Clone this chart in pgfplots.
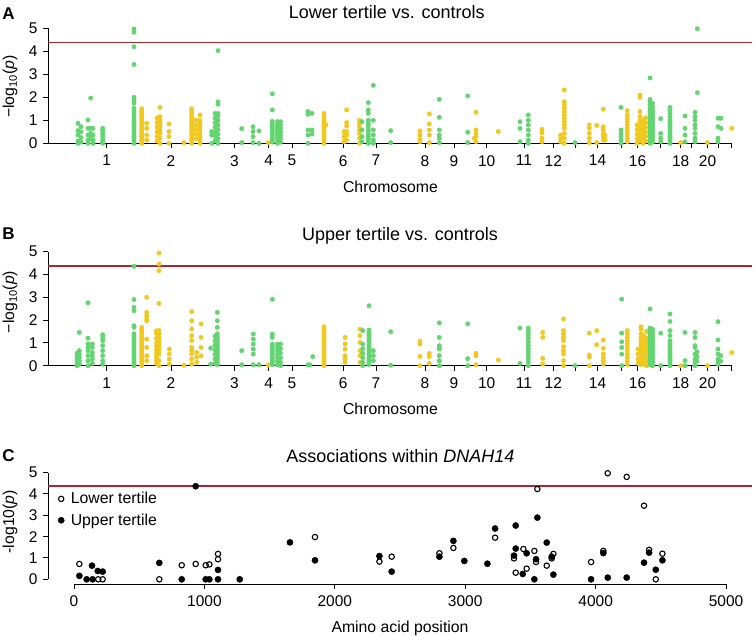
\documentclass[border=0pt]{standalone}
\usepackage{fontspec}
\setmainfont{Liberation Sans}
\usepackage{pgfplots}
\pgfplotsset{compat=1.18}
\definecolor{gc}{RGB}{98,212,112}
\definecolor{yc}{RGB}{240,200,30}
\definecolor{rc}{RGB}{168,40,50}
\newcommand{\tickfont}{\fontsize{15.5}{18}\selectfont}
\newcommand{\labfont}{\fontsize{15.8}{19}\selectfont}
\newcommand{\titfont}{\fontsize{18}{21}\selectfont}
\pgfplotsset{
  common/.style={
    scale only axis, width=704pt, ymax=5,
    axis line style={draw=none}, clip=false,
    xtick pos=left, ytick pos=left, tick align=outside,
    major tick length=5pt,
    tick style={black, line width=1pt},
    ytick={0,1,2,3,4,5}, yticklabels={0,1,2,3,4,5},
    tick label style={font=\tickfont},
    yticklabel style={xshift=-2pt},
    xticklabel style={yshift=-3.5pt},
    anchor=south west,
  },
  manh/.style={common, xmin=48, xmax=752, ymin=0,
    xtick={106.7,171,234.5,268.8,292,343.3,376,425,454,486.7,524,553.3,575.7,597.5,621,637.5,660,680.7,691.7,707.5,718.3,731.7},
    xticklabels={1,2,3,4,5,6,7,8,9,10,11,12,,14,,16,,18,,20,,},
  },
  gpt/.style={only marks, mark=*, mark size=2.2pt, color=gc},
  ypt/.style={only marks, mark=*, mark size=2.2pt, color=yc},
}
\begin{document}
\begin{tikzpicture}[x=1pt,y=1pt]
\useasboundingbox (0,0) rectangle (754,-636);
% ---------------- Panel A ----------------
\begin{axis}[manh, at={(48pt,-143.3pt)}, height=115pt]
\draw[black, line width=1pt] (axis cs:48,0) -- (axis cs:731.7,0);
\draw[black, line width=1pt] (axis cs:48,0) -- (axis cs:48,5);
\addplot[rc, line width=1.4pt] coordinates {(48,4.38) (752,4.38)};
\addplot[ypt] coordinates {
(141.7,1.5)(141.7,1.4)(141.7,1.3)(141.7,1.2)(141.7,1.1)(141.7,1.0)(141.7,0.9)(141.7,0.8)(141.7,0.7)(141.7,0.6)(141.7,0.5)(141.7,0.4)(141.7,0.3)(141.7,0.2)(141.7,0.1)(141.7,0)
(146.7,0.87)(146.7,0.65)(146.7,0.36)(146.7,0.14)
(157,1.1)(157,0.9)(157,0.7)(157,0.5)(157,0.3)(157,0.1)
(160,1.56)(160,1.16)(160,1.0)(160,0.87)(160,0.72)(160,0.58)(160,0.43)(160,0.22)(160,0)
(169,0.84)(169,0.51)(169,0.29)(169,0)
(184,0.03)
(191.7,1.5)(191.7,1.4)(191.7,1.3)(191.7,1.2)(191.7,1.1)(191.7,1.0)(191.7,0.9)(191.7,0.8)(191.7,0.7)(191.7,0.6)(191.7,0.5)(191.7,0.4)(191.7,0.3)(191.7,0.2)(191.7,0.1)(191.7,0)
(196,1.0)(196,0.8)(196,0.6)(196,0.4)(196,0.2)
(200,1.23)(200,1.0)(200,0.87)(200,0.72)(200,0.58)(200,0.43)(200,0.29)(200,0.14)(200,0)
(268.3,0.03)
(324,1.3)(324,1.2)(324,1.1)(324,1.0)(324,0.9)(324,0.8)(324,0.7)(324,0.6)(324,0.5)(324,0.4)(324,0.3)(324,0.2)(324,0.1)(324,0)
(326,0.8)
(344,0.51)(344,0.29)(344,0.07)
(346.7,1.45)(346.7,0.9)(346.7,0.75)(346.7,0.51)(346.7,0.36)(346.7,0.14)
(359.5,1.0)(359.5,0.87)(359.5,0.72)(359.5,0.58)(359.5,0.43)(359.5,0.22)(359.5,0)
(420,0.54)(420,0.36)(420,0.17)(420,0.07)
(429.3,1.28)(429.3,0.84)(429.3,0.58)(429.3,0.36)(429.3,0.03)
(474.3,0.22)
(476,1.35)(476,0.58)(476,0.43)(476,0.29)(476,0.07)
(498.3,0.51)
(542,0.61)(542,0.46)(542,0.22)(542,0.07)
(560.7,0.36)(560.7,0.22)(560.7,0.07)
(564.3,2.32)(564.3,1.81)(564.3,1.67)(564.3,1.52)(564.3,1.38)(564.3,1.23)(564.3,1.09)(564.3,0.94)(564.3,0.8)(564.3,0.65)(564.3,0.43)(564.3,0.22)(564.3,0)
(589.3,0.8)(589.3,0.65)(589.3,0.43)(589.3,0.22)(589.3,0.03)
(596.7,0.78)(596.7,0.03)
(603.3,1.48)(603.3,0.72)(603.3,0.58)(603.3,0.43)(603.3,0.29)(603.3,0.14)
(605,0.36)(605,0.14)
(627.3,1.42)(627.3,1.23)(627.3,1.09)(627.3,0.94)(627.3,0.8)(627.3,0.65)(627.3,0.51)(627.3,0.36)(627.3,0.22)(627.3,0.07)
(637,0.8)(637,0.6)(637,0.4)(637,0.2)(637,0)
(640,2.1)(640,2.0)(640,1.38)(640,1.16)(640,1.0)(640,0.87)(640,0.7)(640,0.55)(640,0.4)(640,0.25)(640,0.1)
(643,1.0)(643,0.8)(643,0.6)(643,0.4)(643,0.2)(643,0)
(645.5,1.1)(645.5,0.9)(645.5,0.7)(645.5,0.5)(645.5,0.3)(645.5,0.1)
(680.7,0.03)(707.3,0.03)(731.7,0.65)
};
\addplot[gpt] coordinates {
(78,0.87)(78,0.55)(78,0.36)(78,0.1)(78,0)
(81,0.72)(81,0.5)(81,0.25)(81,0.05)
(88,1.01)(88,0.65)(88,0.36)(88,0.14)(88,0)
(90.7,1.97)(90.7,0.65)(90.7,0.43)(90.7,0.22)
(93,0.65)(93,0.36)(93,0.14)(93,0)
(102.7,0.65)(102.7,0.55)(102.7,0.43)(102.7,0.3)(102.7,0.17)(102.7,0.05)(102.7,0)
(134,4.97)(134,4.83)(134,4.2)(134,3.43)(134,2.0)(134,1.88)(134,1.74)(134,1.52)(134,1.4)(134,1.3)(134,1.2)(134,1.1)(134,1.0)(134,0.9)(134,0.8)(134,0.7)(134,0.6)(134,0.5)(134,0.4)(134,0.3)(134,0.2)(134,0.1)(134,0)
(211.7,0.51)(211.7,0.36)(211.7,0)
(215,1.3)(215,1.1)(215,0.9)(215,0.7)(215,0.5)(215,0.3)(215,0.1)
(218,4.03)(218,1.8)(218,1.7)(218,1.3)(218,1.2)(218,1.0)(218,0.8)(218,0.6)(218,0.4)(218,0.2)(218,0)
(241.7,0.64)(241.7,0.03)
(253,0.72)(253,0.51)(253,0.29)(253,0.03)
(259,0.54)(259,0)
(272.3,2.15)(272.3,1.45)(272.3,0.95)(272.3,0.85)(272.3,0.75)(272.3,0.65)(272.3,0.55)(272.3,0.45)(272.3,0.35)(272.3,0.25)(272.3,0.15)(272.3,0.05)
(277.5,0.94)(277.5,0.8)(277.5,0.7)(277.5,0.6)(277.5,0.5)(277.5,0.4)(277.5,0.3)(277.5,0.2)(277.5,0.1)(277.5,0)
(280.5,0.94)(280.5,0.8)(280.5,0.65)(280.5,0.5)(280.5,0.35)(280.5,0.2)(280.5,0.05)
(308,1.38)(308,1.26)(308,0.58)(308,0.36)(308,0)
(312,1.3)(312,0.58)(312,0.4)
(362,0.94)(362,0.58)(362,0.29)(362,0.07)
(368.3,1.77)(368.3,1.45)(368.3,1.3)(368.3,1.0)(368.3,0.87)(368.3,0.75)(368.3,0.6)(368.3,0.5)(368.3,0.4)(368.3,0.3)(368.3,0.2)(368.3,0.1)(368.3,0)
(373.3,2.52)(373.3,1.0)(373.3,0.58)(373.3,0.36)(373.3,0.14)(373.3,0)
(390.7,0.55)(390.7,0.03)
(439.3,1.91)(439.3,1.13)(439.3,0.58)(439.3,0.36)(439.3,0.22)(439.3,0.03)
(467.7,2.06)(467.7,0.48)(467.7,0.03)
(520,0.94)(520,0.65)(520,0.07)
(528.3,1.23)(528.3,1.0)(528.3,0.8)(528.3,0.58)(528.3,0.36)(528.3,0.14)(528.3,0)
(575,0.03)
(621,1.56)(621,0.58)(621,0.43)(621,0.29)(621,0.14)(621,0)
(650,2.84)(650,1.91)(650,1.8)(650,1.67)(650,1.52)(650,1.4)(650,1.3)(650,1.2)(650,1.1)(650,1.0)(650,0.9)(650,0.8)(650,0.7)(650,0.6)(650,0.5)(650,0.4)(650,0.3)(650,0.2)(650,0.1)(650,0)
(652.5,1.74)(652.5,1.6)(652.5,1.45)(652.5,1.35)(652.5,1.25)(652.5,1.15)(652.5,1.05)(652.5,0.95)(652.5,0.85)(652.5,0.75)(652.5,0.65)(652.5,0.55)(652.5,0.45)(652.5,0.35)(652.5,0.25)(652.5,0.15)(652.5,0.05)
(660.7,1.07)(660.7,0.43)(660.7,0.22)(660.7,0.07)
(670,1.56)(670,1.45)(670,1.3)(670,1.16)(670,1.0)(670,0.9)(670,0.8)(670,0.7)(670,0.6)(670,0.5)(670,0.4)(670,0.3)(670,0.2)(670,0.1)(670,0)
(685,1.19)(685,0.65)(685,0.36)(685,0.07)
(695,1.35)(695,1.16)(695,1.0)(695,0.8)(695,0.65)(695,0.43)(695,0.22)(695,0.07)
(697.3,4.98)(697.3,2.2)
(718,1.09)(718,0.72)(718,0.22)(718,0.07)
(721,1.09)(721,0.65)
};
\end{axis}
% ---------------- Panel B ----------------
\begin{axis}[manh, at={(48pt,-365.7pt)}, height=114pt]
\draw[black, line width=1pt] (axis cs:48,0) -- (axis cs:731.7,0);
\draw[black, line width=1pt] (axis cs:48,0) -- (axis cs:48,5);
\addplot[rc, line width=1.4pt] coordinates {(48,4.38) (752,4.38)};
\addplot[ypt] coordinates {
(141.7,1.68)(141.7,1.6)(141.7,1.5)(141.7,1.4)(141.7,1.3)(141.7,1.2)(141.7,1.1)(141.7,1.0)(141.7,0.9)(141.7,0.8)(141.7,0.7)(141.7,0.6)(141.7,0.5)(141.7,0.4)(141.7,0.3)(141.7,0.2)(141.7,0.1)(141.7,0)
(146.7,3.0)(146.7,2.34)(146.7,2.2)(146.7,2.05)(146.7,1.97)(146.7,1.17)(146.7,0.8)(146.7,0.44)(146.7,0.22)
(156.5,1.53)(156.5,1.4)(156.5,1.2)(156.5,1.0)(156.5,0.85)(156.5,0.7)(156.5,0.55)(156.5,0.4)(156.5,0.25)(156.5,0.1)
(159,4.94)(159,4.46)(159,4.17)(159,2.73)(159,1.54)(159,1.4)(159,1.24)(159,1.1)(159,0.95)(159,0.8)(159,0.66)(159,0.51)(159,0.22)(159,0)
(169.3,0.73)(169.3,0.51)(169.3,0.29)(169.3,0.07)
(184,0.02)
(191.7,2.37)(191.7,1.97)(191.7,1.61)(191.7,1.32)(191.7,1.1)(191.7,0.8)(191.7,0.66)(191.7,0.51)(191.7,0.29)(191.7,0.07)
(196.7,0.58)(196.7,0.37)(196.7,0.15)
(201,1.83)(201,1.24)(201,0.8)(201,0.44)
(268.3,0.03)
(324,1.71)(324,1.6)(324,1.5)(324,1.4)(324,1.3)(324,1.2)(324,1.1)(324,1.0)(324,0.9)(324,0.8)(324,0.7)(324,0.6)(324,0.5)(324,0.4)(324,0.3)(324,0.2)(324,0.1)(324,0)
(345,1.24)(345,0.95)(345,0.73)(345,0.44)(345,0.29)(345,0.15)
(360,1.6)(360,1.32)(360,1.02)(360,0.66)(360,0.44)(360,0.15)
(420,1.07)(420,0.95)(420,0.41)(420,0)
(429.3,0.54)(429.3,0.4)(429.3,0.1)
(476,0.54)(476,0.44)(476,0.04)
(498.3,0.25)
(542.7,1.46)(542.7,1.24)(542.7,0.32)(542.7,0.07)
(563.5,2.05)(563.5,1.54)(563.5,1.4)(563.5,1.24)(563.5,1.1)(563.5,0.83)(563.5,0.66)(563.5,0.51)(563.5,0.22)(563.5,0)
(589.3,1.43)(589.3,0.47)(589.3,0.37)(589.3,0)
(596.7,1.54)(596.7,0.92)
(603.3,1.12)(603.3,0.76)(603.3,0.51)(603.3,0.37)(603.3,0.22)(603.3,0.07)
(627.3,1.54)(627.3,1.4)(627.3,1.24)(627.3,1.1)(627.3,0.95)(627.3,0.8)(627.3,0.65)(627.3,0.5)(627.3,0.35)(627.3,0.2)(627.3,0.05)
(638,0.73)(638,0.51)(638,0.3)(638,0.1)
(641,1.71)(641,1.6)(641,1.4)(641,1.24)(641,1.1)(641,0.95)(641,0.8)(641,0.65)(641,0.5)(641,0.35)(641,0.2)(641,0.05)
(644,1.3)(644,1.1)(644,0.9)(644,0.7)(644,0.5)(644,0.3)(644,0.1)
(646.5,1.5)(646.5,1.2)(646.5,1.0)(646.5,0.8)(646.5,0.6)(646.5,0.4)(646.5,0.2)(646.5,0)
(680.7,0)(707.3,0)(731.7,0.58)
};
\addplot[gpt] coordinates {
(77,0.55)(77,0.4)(77,0.25)(77,0.1)(77,0)
(79.3,1.46)(79.3,0.66)(79.3,0.51)(79.3,0.37)(79.3,0.22)(79.3,0.07)
(88,2.76)(88,1.21)(88,0.95)(88,0.8)(88,0.66)(88,0.44)(88,0.22)(88,0)
(92.3,0.95)(92.3,0.8)(92.3,0.58)(92.3,0.44)(92.3,0.29)(92.3,0.1)
(102.7,1.36)(102.7,1.24)(102.7,1.1)(102.7,0.88)(102.7,0.66)(102.7,0.44)(102.7,0.22)(102.7,0.07)
(134,4.36)(134,2.9)(134,2.56)(134,2.41)(134,1.75)(134,1.68)(134,1.4)(134,1.3)(134,1.2)(134,1.1)(134,1.0)(134,0.9)(134,0.8)(134,0.7)(134,0.6)(134,0.5)(134,0.4)(134,0.3)(134,0.2)(134,0.1)(134,0)
(210.7,0.77)(210.7,0.07)
(215,1.3)(215,1.1)(215,0.9)(215,0.7)(215,0.5)(215,0.3)(215,0.1)
(217.3,2.34)(217.3,1.97)(217.3,1.68)(217.3,1.4)(217.3,1.25)(217.3,1.15)(217.3,1.05)(217.3,0.95)(217.3,0.85)(217.3,0.75)(217.3,0.65)(217.3,0.55)(217.3,0.45)(217.3,0.35)(217.3,0.25)(217.3,0.15)(217.3,0.05)
(241.7,0.66)(241.7,0.04)
(253.3,1.39)(253.3,1.17)(253.3,0.95)(253.3,0.73)(253.3,0.51)(253.3,0.04)
(259,0.04)
(272.3,2.91)(272.3,1.39)(272.3,1.24)(272.3,0.95)(272.3,0.85)(272.3,0.75)(272.3,0.65)(272.3,0.55)(272.3,0.45)(272.3,0.35)(272.3,0.25)(272.3,0.15)(272.3,0.05)
(277.5,0.95)(277.5,0.8)(277.5,0.65)(277.5,0.5)(277.5,0.35)(277.5,0.2)(277.5,0.05)
(280.5,0.95)(280.5,0.75)(280.5,0.55)(280.5,0.35)(280.5,0.15)(280.5,0)
(308,0.04)(310,0.04)(312.7,0.4)
(362.7,1.54)(362.7,0.95)(362.7,0.75)(362.7,0.55)(362.7,0.35)(362.7,0.15)(362.7,0)
(369,2.63)(369,1.56)(369,1.45)(369,1.35)(369,1.25)(369,1.15)(369,1.05)(369,0.95)(369,0.85)(369,0.75)(369,0.65)(369,0.55)(369,0.45)(369,0.35)(369,0.25)(369,0.15)(369,0.05)
(373.3,0.66)(373.3,0.44)(373.3,0.22)
(390.7,1.49)(390.7,0.02)
(439.3,1.88)(439.3,1.24)(439.3,0.88)(439.3,0.8)(439.3,0.73)(439.3,0.44)(439.3,0.22)(439.3,0)
(467.7,1.84)(467.7,0.31)(467.7,0)
(520,1.65)(520,0.1)
(528.3,1.65)(528.3,1.5)(528.3,1.35)(528.3,1.2)(528.3,1.05)(528.3,0.9)(528.3,0.75)(528.3,0.6)(528.3,0.45)(528.3,0.3)(528.3,0.15)(528.3,0)
(575,0)
(621.7,2.92)(621.7,1.43)(621.7,1.05)(621.7,0.8)(621.7,0.51)(621.7,0)
(650,2.49)(650,1.65)(650,1.55)(650,1.45)(650,1.35)(650,1.25)(650,1.15)(650,1.05)(650,0.95)(650,0.85)(650,0.75)(650,0.65)(650,0.55)(650,0.45)(650,0.35)(650,0.25)(650,0.15)(650,0.05)
(652.5,1.6)(652.5,1.5)(652.5,1.4)(652.5,1.3)(652.5,1.2)(652.5,1.1)(652.5,1.0)(652.5,0.9)(652.5,0.8)(652.5,0.7)(652.5,0.6)(652.5,0.5)(652.5,0.4)(652.5,0.3)(652.5,0.2)(652.5,0.1)(652.5,0)
(660.7,1.43)(660.7,0)
(670,2.27)(670,1.94)(670,1.54)(670,1.32)(670,1.1)(670,1.0)(670,0.9)(670,0.8)(670,0.7)(670,0.6)(670,0.5)(670,0.4)(670,0.3)(670,0.2)(670,0.1)(670,0)
(685,1.46)(685,0.22)(685,0)
(695,1.46)(695,1.24)(695,0.88)(695,0.8)(695,0.51)(695,0.29)(695,0.15)(695,0)
(697,0.6)(697,0.4)(697,0.2)
(718,1.93)(718,1.13)(718,0.73)(718,0.51)(718,0.29)(718,0.15)(718,0.07)
(720.7,0.44)(720.7,0.2)
};
\end{axis}
% ---------------- Panel C ----------------
\begin{axis}[common, at={(48pt,-584pt)}, height=111.4pt,
  xmin=-199.4, xmax=5199, ymin=-0.22,
  xtick={0,1000,2000,3000,4000,5000}, xticklabels={0,1000,2000,3000,4000,5000},
  legend style={draw=none, fill=none, at={(axis cs:-123.5,4.08)}, anchor=north west,
    inner sep=0pt, font=\labfont, row sep=8.4pt, column sep=6.5pt,
    nodes={inner sep=0pt}},
  legend cell align=left,
  legend image code/.code={\draw[#1] plot coordinates {(0pt,0pt)};},
]
\draw[black, line width=1pt] (axis cs:0,-0.22) -- (axis cs:5000,-0.22);
\draw[black, line width=1pt] (axis cs:-199.4,0) -- (axis cs:-199.4,5);
\addplot[rc, line width=1.4pt, forget plot] coordinates {(-199.4,4.38) (5199,4.38)};
\addplot[only marks, mark=o, mark size=2.7pt, black, line width=1.1pt] coordinates {
(41,0.72)(186,0)(220,0)(654,0)(826,0.66)(933,0.72)(1010,0.66)(1038,0.7)(1104,1.19)(1104,0.94)(1848,1.98)
(2342,0.83)(2436,1.06)(2802,1.22)(2909,1.47)(3229,1.95)(3374,0.98)(3387,0.31)(3446,1.42)(3471,0.5)
(3530,1.33)(3553,4.23)(3543,0.81)(3625,0.64)(3663,0.98)(3676,1.19)(3965,0.81)(4059,1.33)(4093,4.97)
(4238,4.8)(4371,3.45)(4410,1.38)(4461,0)(4512,1.2)
};
\addlegendentry{\vphantom{Lp}Lower tertile}
\addplot[only marks, mark=*, mark size=3.1pt, black] coordinates {
(41,0.16)(97,0)(138,0.64)(143,0)(182,0.39)(220,0.36)(654,0.77)(826,0)(933,4.36)(1010,0)(1038,0)
(1104,0.44)(1104,0)(1271,0)(1656,1.73)(1848,0.89)(2342,1.09)(2436,0.36)(2802,1.06)(2909,1.8)
(2993,0.86)(3170,0.73)(3229,2.38)(3387,2.52)(3387,1.44)(3374,1.11)(3441,0.25)(3471,1.22)(3530,0)
(3553,2.89)(3543,0.94)(3625,1.72)(3663,1.06)(3676,0.22)(3965,0)(4059,1.23)(4093,0.08)(4238,0.08)
(4371,0.78)(4410,1.25)(4461,0.45)(4512,0.89)
};
\addlegendentry{\vphantom{Lp}Upper tertile}
\end{axis}
% ---------------- Texts ----------------
\node[font=\bfseries\fontsize{17}{20}\selectfont, anchor=base] at (8.5,-19.3) {A};
\node[font=\titfont, anchor=base] at (386.7,-19) {Lower tertile vs. controls};
\node[font=\labfont, anchor=base] at (390.5,-192.3) {Chromosome};
\node[font=\labfont, rotate=90] at (10,-86.7) {−log\textsubscript{10}(\textit{p})};
\node[font=\bfseries\fontsize{17}{20}\selectfont, anchor=base] at (8.5,-240) {B};
\node[font=\titfont, anchor=base] at (400,-240.7) {Upper tertile vs. controls};
\node[font=\labfont, anchor=base] at (390.5,-414.7) {Chromosome};
\node[font=\labfont, rotate=90] at (10,-302) {−log\textsubscript{10}(\textit{p})};
\node[font=\bfseries\fontsize{17}{20}\selectfont, anchor=base] at (8.5,-461.7) {C};
\node[font=\titfont, anchor=base] at (400.3,-462.3) {Associations within \textit{DNAH14}};
\node[font=\labfont, anchor=base] at (400,-632.7) {Amino acid position};
\node[font=\labfont, rotate=90] at (10,-521.7) {-log10(\textit{p})};
\end{tikzpicture}
\end{document}
